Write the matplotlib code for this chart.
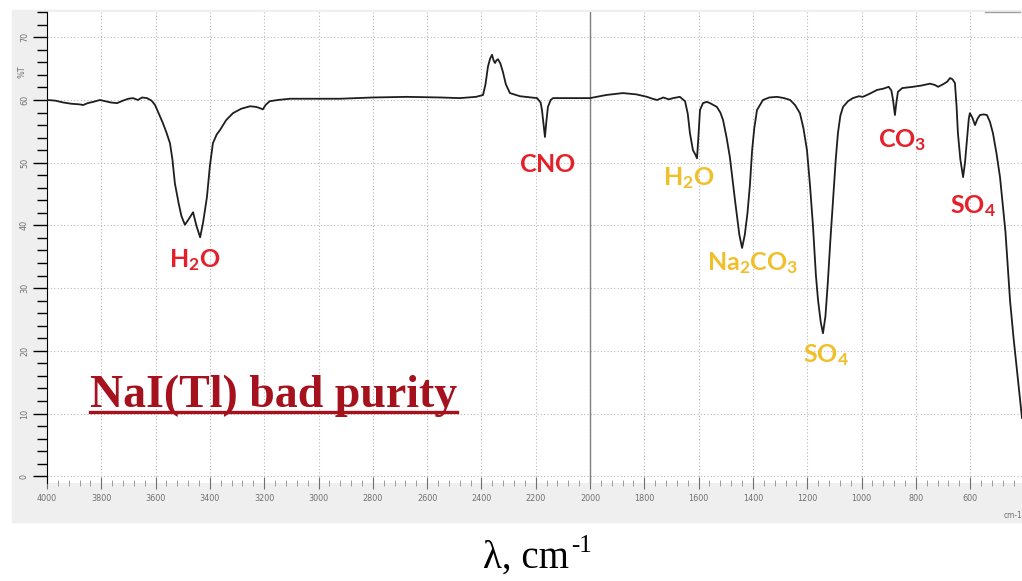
import matplotlib
matplotlib.use("Agg")
import matplotlib.pyplot as plt
from matplotlib.patches import Rectangle
from matplotlib.lines import Line2D
from matplotlib.ticker import MultipleLocator

plt.rcParams['mathtext.fontset'] = 'custom'
plt.rcParams['mathtext.rm'] = 'Liberation Serif'
plt.rcParams['mathtext.bf'] = 'Lato:bold'

# IR transmission spectrum (wavenumber cm-1, %T)
wavenumber = [4000, 3970, 3940, 3910, 3880, 3867, 3850, 3830, 3805, 3785, 3765, 3742,
              3720, 3700, 3683, 3665, 3650, 3632, 3615, 3602, 3588, 3573, 3560, 3547,
              3538, 3529, 3515, 3505, 3492, 3478, 3462, 3450, 3436, 3425, 3411, 3400,
              3389, 3375, 3363, 3340, 3315, 3285, 3252, 3230, 3216, 3205, 3195, 3180,
              3150, 3105, 3000, 2921, 2800, 2674, 2550, 2479, 2420, 2394, 2385, 2376,
              2368, 2361, 2355, 2350, 2345, 2339, 2330, 2321, 2310, 2295, 2258, 2195,
              2182, 2177, 2171, 2166, 2161, 2155, 2145, 2136, 2080, 2000, 1940, 1879,
              1830, 1790, 1770, 1753, 1730, 1710, 1694, 1669, 1650, 1640, 1632, 1621,
              1612, 1606, 1601, 1595, 1584, 1570, 1558, 1533, 1520, 1510, 1497, 1485,
              1466, 1450, 1440, 1430, 1420, 1411, 1403, 1395, 1385, 1363, 1340, 1311,
              1285, 1263, 1245, 1227, 1214, 1201, 1190, 1179, 1168, 1160, 1150, 1142,
              1133, 1124, 1115, 1105, 1095, 1087, 1078, 1068, 1050, 1032, 1010, 995,
              970, 943, 920, 900, 890, 884, 877, 872, 866, 850, 811, 780,
              748, 730, 718, 700, 685, 674, 665, 656, 650, 645, 636, 626,
              619, 612, 605, 601, 592, 582, 573, 564, 550, 538, 527, 516,
              503, 490, 470, 453, 440, 424, 409]
transmission = [60.0, 59.9, 59.6, 59.4, 59.3, 59.2, 59.5, 59.7, 60.0, 59.8, 59.6, 59.5,
                59.9, 60.2, 60.3, 60.0, 60.4, 60.3, 59.9, 59.2, 57.8, 56.3, 54.8, 53.1,
                50.5, 46.7, 43.5, 41.5, 40.1, 41.0, 42.1, 40.0, 38.1, 40.5, 44.5, 49.5,
                53.1, 54.5, 55.2, 56.8, 57.9, 58.6, 59.0, 58.9, 58.7, 58.5, 59.2, 59.8,
                60.0, 60.2, 60.2, 60.2, 60.4, 60.5, 60.4, 60.3, 60.5, 60.8, 62.5, 65.3,
                66.6, 67.2, 66.3, 65.9, 66.3, 66.5, 65.8, 64.5, 62.5, 61.1, 60.6, 60.3,
                59.6, 58.4, 56.0, 54.1, 56.5, 58.9, 60.0, 60.3, 60.3, 60.3, 60.8, 61.1,
                60.9, 60.5, 60.2, 60.0, 60.4, 60.1, 60.3, 60.5, 59.8, 57.8, 54.7, 52.0,
                51.3, 50.7, 54.0, 58.4, 59.5, 59.7, 59.5, 58.9, 58.0, 56.8, 54.0, 50.9,
                44.0, 38.5, 36.4, 38.5, 42.0, 46.5, 52.0, 55.5, 58.4, 60.0, 60.4, 60.5,
                60.3, 60.0, 59.2, 57.9, 55.5, 52.0, 46.5, 40.0, 32.0, 28.0, 24.5, 22.8,
                25.5, 31.0, 37.5, 44.0, 50.5, 54.7, 57.5, 58.9, 59.8, 60.3, 60.6, 60.5,
                61.0, 61.6, 61.8, 62.1, 61.5, 60.0, 57.6, 59.5, 61.3, 61.9, 62.1, 62.3,
                62.6, 62.4, 62.1, 62.5, 62.9, 63.5, 63.3, 62.7, 59.0, 54.7, 50.5, 47.7,
                50.0, 53.6, 57.0, 57.9, 57.2, 56.0, 57.0, 57.6, 57.7, 57.6, 56.5, 54.7,
                51.5, 47.7, 39.0, 28.0, 22.0, 15.5, 9.3]

# peak labels: text, x, baseline y, colour
peak_labels = [r'$\mathbf{H_2O}$', r'$\mathbf{CNO}$', r'$\mathbf{H_2O}$', r'$\mathbf{Na_2CO_3}$',
               r'$\mathbf{SO_4}$', r'$\mathbf{CO_3}$', r'$\mathbf{SO_4}$']
label_x = [3455, 2155, 1636, 1400, 1131, 851, 590]
label_y = [33.4, 48.5, 46.4, 32.9, 18.2, 52.5, 42.0]
red = '#e4202a'
yellow = '#f0bf2a'
label_colors = [red, red, yellow, yellow, yellow, red, red]

W, H = 1022, 581
fig = plt.figure(figsize=(W / 100, H / 100), dpi=100)
fig.patches.append(Rectangle((12 / W, 1 - 522 / H), (W - 12) / W, 512 / H,
                             transform=fig.transFigure, color='#efefef', zorder=-5))

ax = fig.add_axes([47 / W, 1 - 482.5 / H, 1 - 47 / W, 470.3 / H])
ax.set_facecolor('white')
ax.plot(wavenumber, transmission, color='#1e1e1e', lw=1.3, zorder=3)
ax.set_xlim(4000, 409)
ax.set_ylim(-1, 74)

ax.xaxis.set_major_locator(MultipleLocator(200))
ax.xaxis.set_minor_locator(MultipleLocator(40))
ax.yaxis.set_major_locator(MultipleLocator(10))
ax.yaxis.set_minor_locator(MultipleLocator(2))
ax.grid(True, which='major', color='#b8b8b8', lw=0.8, linestyle=(0, (1, 2)))
ax.axvline(2000, color='#808080', lw=1.0, zorder=2)

for s in ['top', 'right', 'bottom']:
    ax.spines[s].set_visible(False)
ax.spines['left'].set_color('black')

ax.tick_params(axis='y', which='major', length=10, width=1, color='black',
               labelcolor='#707070', labelsize=6.5, pad=3, labelrotation=90)
ax.tick_params(axis='y', which='minor', length=7, width=1, color='black')
ax.tick_params(axis='x', which='major', length=8, width=0.8, color='#707070', direction='inout',
               labelcolor='#707070', labelsize=6.5, pad=4)
ax.tick_params(axis='x', which='minor', length=4, width=0.6, color='#909090', direction='inout')
for lab in ax.get_xticklabels() + ax.get_yticklabels():
    lab.set_fontfamily('DejaVu Sans')
    lab.set_fontstretch('condensed')
for lab in ax.get_yticklabels():
    lab.set_va('center')

fig.text(22 / W, 1 - 72 / H, '%T', rotation=90, ha='center', va='center',
         color='#707070', fontsize=6.5, family='DejaVu Sans', stretch='condensed')
fig.text(1004 / W, 1 - 516 / H, 'cm-1', ha='left', va='center',
         color='#707070', fontsize=6, family='DejaVu Sans', stretch='condensed')
fig.add_artist(Line2D([985 / W, 1020 / W], [1 - 12 / H, 1 - 12 / H],
                      transform=fig.transFigure, color='#a0a0a0', lw=1))

for txt, x, y, c in zip(peak_labels, label_x, label_y, label_colors):
    ax.text(x, y, txt, color=c, fontsize=18, ha='center', va='baseline', zorder=4)

title = fig.text(90 / W, 1 - 407 / H, 'NaI(Tl) bad purity', color='#a5111c',
                 fontsize=33, fontweight='bold', family='Liberation Serif',
                 ha='left', va='baseline')

# x axis caption: "λ, cm" plus a raised "-1"
xlab = fig.text(483 / W, 1 - 568 / H, 'λ, cm', color='black',
                fontsize=28, family='Liberation Serif', ha='left', va='baseline')

fig.canvas.draw()
bb = title.get_window_extent()
uy = (H - 407 - 5) / H
fig.add_artist(Line2D([bb.x0 / W, bb.x1 / W], [uy, uy], transform=fig.transFigure,
                      color='#a5111c', lw=2.4))
xb = xlab.get_window_extent()
fig.text((xb.x1 + 2) / W, 1 - 552 / H, '-1', color='black', fontsize=18,
         family='Liberation Serif', ha='left', va='baseline')

fig.savefig('out.png', dpi=100)
